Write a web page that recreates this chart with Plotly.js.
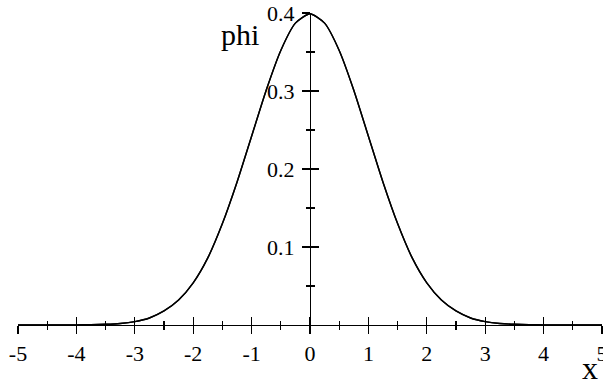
<!DOCTYPE html>
<html>
<head>
<meta charset="utf-8">
<script src="https://cdn.plot.ly/plotly-3.0.1.min.js"></script>
<style>
  html, body { margin: 0; padding: 0; background: #fff; }
  #chart { width: 603px; height: 382px; }
</style>
</head>
<body>
<div id="chart"></div>
<script>
// values, every quarter unit
const xValues = [
    -5, -4.75, -4.5, -4.25, -4, -3.75, -3.5, -3.25, -3, -2.75, -2.5, -2.25, -2, -1.75, -1.5, -1.25, -1, -0.75, -0.5, -0.25,
    0,
    0.25, 0.5, 0.75, 1, 1.25, 1.5, 1.75, 2, 2.25, 2.5, 2.75, 3, 3.25, 3.5, 3.75, 4, 4.25, 4.5, 4.75, 5
];
const phiValues = [
    0, 0, 0, 0.00005, 0.0001, 0.0004, 0.0009, 0.002, 0.0044, 0.009, 0.018, 0.032, 0.054, 0.086, 0.130, 0.183, 0.242, 0.301, 0.352, 0.387,
    0.399,
    0.387, 0.352, 0.301, 0.242, 0.183, 0.130, 0.086, 0.054, 0.032, 0.018, 0.009, 0.0044, 0.002, 0.0009, 0.0004, 0.0001, 0.00005, 0, 0, 0
];

const xTicks = [-5, -4, -3, -2, -1, 0, 1, 2, 3, 4, 5];
const xMinorTicks = [-4.5, -3.5, -2.5, -1.5, -0.5, 0.5, 1.5, 2.5, 3.5, 4.5];
const yTicks = [0.1, 0.2, 0.3, 0.4];
const yMinorTicks = [0.05, 0.15, 0.25, 0.35];

const serif = '"Liberation Serif", "Times New Roman", serif';

// the curve, drawn once on each pair of axes so both pairs get rendered
function curve(xa, ya) {
    return {
        x: xValues,
        y: phiValues,
        xaxis: xa,
        yaxis: ya,
        type: 'scatter',
        mode: 'lines',
        line: {color: '#000', width: 1.4, shape: 'spline', smoothing: 0.6},
        hoverinfo: 'skip',
        showlegend: false
    };
}

// one copy draws ticks outward and one inward so they cross the axis
function xAxis(inside) {
    return {
        range: [-5, 5],
        showgrid: false,
        zeroline: false,
        showline: !inside,
        linecolor: '#000',
        linewidth: 1.4,
        tickmode: 'array',
        tickvals: xTicks,
        ticktext: xTicks.map(String),
        ticks: inside ? 'inside' : 'outside',
        ticklen: 8,
        tickwidth: 1.3,
        tickcolor: '#000',
        showticklabels: !inside,
        ticklabeloverflow: 'allow',
        tickfont: {family: serif, size: 22, color: '#000'},
        minor: {tickvals: xMinorTicks, ticks: inside ? 'inside' : 'outside', ticklen: 4, tickwidth: 1.3, tickcolor: '#000', showgrid: false},
        fixedrange: true
    };
}

function yAxis(inside) {
    return {
        range: [0, 0.4],
        anchor: 'free',
        position: 0.5,
        showgrid: false,
        zeroline: false,
        showline: !inside,
        linecolor: '#000',
        linewidth: 1.4,
        tickmode: 'array',
        tickvals: yTicks,
        ticktext: yTicks.map(String),
        ticks: inside ? 'inside' : 'outside',
        ticklen: 8,
        tickwidth: 1.3,
        tickcolor: '#000',
        showticklabels: !inside,
        ticklabelstandoff: 3,
        tickfont: {family: serif, size: 22, color: '#000'},
        minor: {tickvals: yMinorTicks, ticks: inside ? 'inside' : 'outside', ticklen: 4, tickwidth: 1.3, tickcolor: '#000', showgrid: false},
        fixedrange: true
    };
}

let xaxis2 = xAxis(true);
xaxis2.overlaying = 'x';
xaxis2.anchor = 'y';
let yaxis2 = yAxis(true);
yaxis2.overlaying = 'y';

let layout = {
    width: 603,
    height: 382,
    margin: {l: 18, r: 1, t: 13, b: 57},
    paper_bgcolor: '#fff',
    plot_bgcolor: '#fff',
    xaxis: xAxis(false),
    yaxis: yAxis(false),
    xaxis2: xaxis2,
    yaxis2: yaxis2,
    annotations: [
        {
            text: 'phi', xref: 'paper', yref: 'paper', x: 0.38, y: 0.932,
            xanchor: 'center', yanchor: 'middle', showarrow: false,
            font: {family: serif, size: 30, color: '#000'}
        },
        {
            text: 'x', xref: 'paper', yref: 'paper', x: 0.98, y: -0.138,
            xanchor: 'center', yanchor: 'middle', showarrow: false,
            font: {family: serif, size: 32, color: '#000'}
        }
    ]
};

let config = {displayModeBar: false, staticPlot: true};

Plotly.newPlot('chart', [curve('x', 'y'), curve('x2', 'y2')], layout, config);
</script>
</body>
</html>
